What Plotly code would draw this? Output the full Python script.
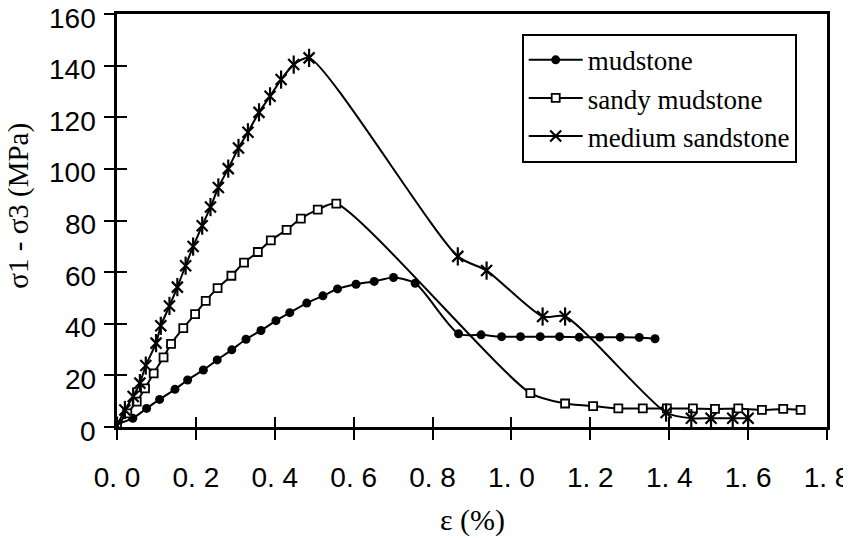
import plotly.graph_objects as go

# ---- data ----
mud_x = [0.0, 0.040, 0.075, 0.108, 0.147, 0.179, 0.219, 0.254, 0.291, 0.327, 0.365, 0.403,
         0.438, 0.481, 0.522, 0.559, 0.606, 0.652, 0.701, 0.756, 0.866, 0.923, 0.975, 1.023,
         1.073, 1.122, 1.172, 1.224, 1.276, 1.324, 1.364]
mud_y = [1.0, 3.4, 7.2, 10.7, 14.6, 18.2, 22.1, 26.0, 29.9, 34.0, 37.4, 41.2,
         44.3, 48.0, 50.8, 53.5, 55.3, 56.4, 57.9, 55.7, 36.1, 35.7, 35.0, 35.0,
         35.0, 35.0, 34.8, 34.8, 34.8, 34.7, 34.2]

sandy_x = [0.0, 0.026, 0.050, 0.071, 0.093, 0.118, 0.137, 0.168, 0.198, 0.225, 0.255, 0.290,
           0.322, 0.357, 0.390, 0.430, 0.466, 0.509, 0.556, 1.048, 1.136, 1.207, 1.271, 1.333,
           1.394, 1.460, 1.516, 1.575, 1.635, 1.689, 1.733]
sandy_y = [0.5, 5.3, 9.8, 15.0, 20.8, 27.0, 32.2, 38.3, 43.7, 48.9, 53.8, 58.6,
           63.7, 67.8, 72.3, 76.4, 80.7, 84.2, 86.5, 13.1, 9.1, 8.1, 7.2, 7.2,
           7.2, 7.2, 7.0, 7.2, 6.6, 7.0, 6.6]

sand_x = [0.0, 0.020, 0.041, 0.058, 0.073, 0.099, 0.111, 0.133, 0.153, 0.174, 0.193, 0.216,
          0.237, 0.257, 0.282, 0.308, 0.332, 0.360, 0.388, 0.416, 0.448, 0.487, 0.864, 0.937,
          1.079, 1.136, 1.392, 1.456, 1.506, 1.561, 1.600]
sand_y = [0.5, 6.6, 11.8, 17.0, 23.8, 32.5, 39.2, 46.9, 54.2, 62.5, 69.9, 78.0,
          85.2, 92.8, 100.1, 108.1, 114.2, 121.9, 128.1, 134.6, 140.4, 143.0, 66.1, 60.6,
          42.8, 42.8, 5.6, 3.4, 3.4, 3.4, 3.4]

x_tickvals = [0.0, 0.2, 0.4, 0.6, 0.8, 1.0, 1.2, 1.4, 1.6, 1.8]
x_ticktext = ["0. 0", "0. 2", "0. 4", "0. 6", "0. 8", "1. 0", "1. 2", "1. 4", "1. 6", "1. 8"]
y_tickvals = [0, 20, 40, 60, 80, 100, 120, 140, 160]
y_ticktext = ["0", "20", "40", "60", "80", "100", "120", "140", "160"]

SERIF = "Liberation Serif, Times New Roman, serif"
SANS = "Liberation Sans, Arial, sans-serif"

fig = go.Figure()
line_style = dict(color="black", width=2, shape="spline", smoothing=0.7)

fig.add_trace(go.Scatter(x=mud_x, y=mud_y, mode="lines+markers", name="mudstone",
                         line=line_style,
                         marker=dict(symbol="circle", size=9, color="black")))
fig.add_trace(go.Scatter(x=sandy_x, y=sandy_y, mode="lines+markers", name="sandy mudstone",
                         line=line_style,
                         marker=dict(symbol="square", size=8, color="white",
                                     line=dict(color="black", width=1.8))))
fig.add_trace(go.Scatter(x=sand_x, y=sand_y, mode="lines+markers", name="medium sandstone",
                         line=line_style,
                         marker=dict(symbol="x-thin-open", size=11, color="black",
                                     line=dict(color="black", width=2.2))))
fig.add_trace(go.Scatter(x=sand_x, y=sand_y, mode="markers", showlegend=False,
                         marker=dict(symbol="line-ns-open", size=13, color="black",
                                     line=dict(color="black", width=2.2))))
# empty trace to carry the inner tick axes
fig.add_trace(go.Scatter(x=[], y=[], xaxis="x2", yaxis="y2", showlegend=False))

# y tick labels as annotations (sit a little below their ticks, as in the reference)
annotations = [
    dict(text=t, xref="paper", yref="y", x=0, y=v, xanchor="right", yanchor="middle",
         xshift=-19, yshift=-4, showarrow=False,
         font=dict(family=SANS, size=28, color="black"))
    for v, t in zip(y_tickvals, y_ticktext)
]
annotations += [
    dict(text="σ1 - σ3 (MPa)", xref="paper", yref="paper", x=-0.14, y=0.535,
         xanchor="center", yanchor="middle", textangle=-90, showarrow=False,
         font=dict(family=SERIF, size=29, color="black")),
    dict(text="ε (%)", xref="paper", yref="paper", x=0.5, y=-0.225,
         xanchor="center", yanchor="middle", showarrow=False,
         font=dict(family=SERIF, size=30, color="black")),
]

# the page body has an 8px margin, so the figure is 8px smaller and shifted
fig.update_layout(
    width=843, height=530,
    margin=dict(l=109, r=24, t=6, b=111),
    plot_bgcolor="white", paper_bgcolor="white",
    showlegend=True,
    legend=dict(x=0.570, y=0.952, xanchor="left", yanchor="top",
                bgcolor="white", bordercolor="black", borderwidth=2,
                font=dict(family=SERIF, size=27, color="black"),
                tracegroupgap=0, itemwidth=54),
    xaxis=dict(range=[0, 1.8], tickvals=x_tickvals, ticktext=x_ticktext,
               ticks="outside", ticklen=10, tickwidth=2, tickcolor="black",
               showline=True, linecolor="black", linewidth=3, mirror=True,
               showgrid=False, zeroline=False, automargin=False,
               ticklabeloverflow="allow",
               tickfont=dict(family=SANS, size=28, color="black"),
               ticklabelstandoff=13),
    yaxis=dict(range=[0, 160], tickvals=y_tickvals, showticklabels=False,
               ticks="outside", ticklen=10, tickwidth=2, tickcolor="black",
               showline=True, linecolor="black", linewidth=3, mirror=True,
               showgrid=False, zeroline=False, automargin=False),
    xaxis2=dict(range=[0, 1.8], tickvals=x_tickvals, overlaying="x", anchor="y2",
                side="bottom", ticks="inside", ticklen=10, tickwidth=2, tickcolor="black",
                showticklabels=False, showline=False, showgrid=False, zeroline=False,
                automargin=False),
    yaxis2=dict(range=[0, 160], tickvals=y_tickvals, overlaying="y", anchor="x2",
                side="left", ticks="inside", ticklen=10, tickwidth=2, tickcolor="black",
                showticklabels=False, showline=False, showgrid=False, zeroline=False,
                automargin=False),
    annotations=annotations,
)

fig.write_html("out.html")
